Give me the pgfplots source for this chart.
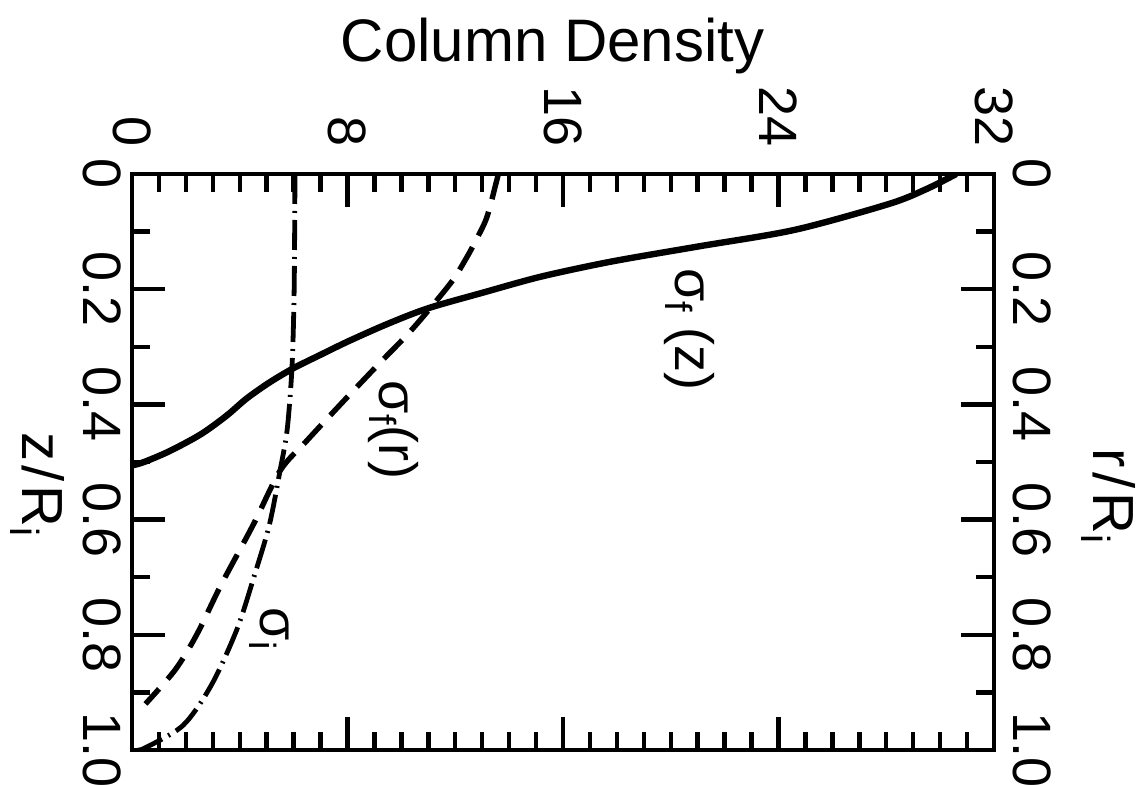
\documentclass[border=0pt]{standalone}
\usepackage{fontspec}
\setmainfont{Liberation Sans}
\usepackage{pgfplots}
\pgfplotsset{compat=1.18}

\pgfplotstableread{
cd z
30.6 0
29.5 0.026
28.1 0.052
24.6 0.097
21.0 0.126
17.8 0.152
15.2 0.178
13.1 0.205
11.0 0.233
9.5 0.260
8.05 0.290
6.95 0.315
6.0 0.337
5.1 0.362
4.25 0.390
3.5 0.420
2.55 0.452
1.4 0.481
0.45 0.500
0 0.506
}\sigz

\pgfplotstableread{
cd r
13.6 0
13.3 0.055
13.1 0.084
12.67 0.124
12.4 0.147
11.9 0.185
11.0 0.237
10.2 0.280
9.2 0.328
7.9 0.392
6.45 0.465
5.5 0.515
4.5 0.609
3.3 0.714
2.4 0.80
1.6 0.861
0.5 0.92
}\sigr

\pgfplotstableread{
cd r
6.05 0
6.02 0.2
5.94 0.335
5.76 0.444
5.5 0.514
5.1 0.609
4.55 0.696
3.9 0.79
2.95 0.887
1.9 0.957
0.5 0.996
0.2 1.0
}\sigi

\newcommand{\lblfont}{\fontsize{27}{29}\selectfont}
\newcommand{\axfont}{\fontsize{29}{31}\selectfont}

\begin{document}
\begin{tikzpicture}
\useasboundingbox (-66pt,-17.5pt) rectangle (502.5pt,375pt);
\pgfplotsset{
  frame/.style={
    at={(0,0)}, anchor=south west,
    scale only axis, width=431pt, height=288pt,
    xmin=0, xmax=32, ymin=0, ymax=1, y dir=reverse,
    ytick={0,0.2,0.4,0.6,0.8,1},
    yticklabels={0,0.2,0.4,0.6,0.8,1.0},
  }
}
% main axis: column density across, z/R_i down the left
\begin{axis}[frame,
  xtick={0,8,16,24,32}, xticklabels={0,8,16,24,32},
  minor x tick num=7, minor y tick num=1,
  tick align=inside, tick pos=both,
  xticklabel pos=right,
  major tick length=16.5pt, minor tick length=9pt,
  axis line style={line width=2.4pt},
  every tick/.style={black, line width=2.2pt},
  xticklabel shift=10pt, yticklabel shift=2pt,
  xticklabel style={rotate=-90, anchor=east, font=\lblfont},
  yticklabel style={rotate=-90, anchor=north, font=\lblfont},
  ylabel={z\kern2pt/\kern2pt R\textsubscript{i}},
  every axis y label/.style={at={(ticklabel cs:0.46,2pt)}, rotate=-90, anchor=north, font=\axfont},
  title={Column Density},
  every axis title/.style={at={(0.488,1)}, anchor=base, yshift=56pt, font=\fontsize{30}{34}\selectfont},
]
\addplot[black, line width=3.2pt, smooth] table[x=cd, y=z] {\sigz};
\addplot[black, line width=2.7pt, smooth, dash pattern=on 13pt off 6.5pt] table[x=cd, y=r] {\sigr};
\addplot[black, line width=2.4pt, smooth, dash pattern=on 15pt off 3.5pt on 1pt off 3.5pt] table[x=cd, y=r] {\sigi};

\node[rotate=-90, font=\lblfont] at (axis cs:20.7,0.27) {σ\textsubscript{f} (z)};
\node[rotate=-90, font=\lblfont] at (axis cs:9.7,0.445) {σ\textsubscript{f}(r)};
\node[rotate=-90, font=\lblfont] at (axis cs:5.1,0.79) {σ\textsubscript{i}};
\end{axis}

% second axis: r/R_i labels on the right
\begin{axis}[frame,
  hide x axis,
  axis line style={draw=none},
  ytick style={draw=none},
  yticklabel pos=right,
  yticklabel shift=6pt,
  yticklabel style={rotate=-90, anchor=south, font=\lblfont},
  ylabel={r\kern2pt/\kern2pt R\textsubscript{i}},
  every axis y label/.style={at={(ticklabel cs:0.44,8pt)}, rotate=-90, anchor=south, font=\axfont},
]
\end{axis}
\end{tikzpicture}
\end{document}
